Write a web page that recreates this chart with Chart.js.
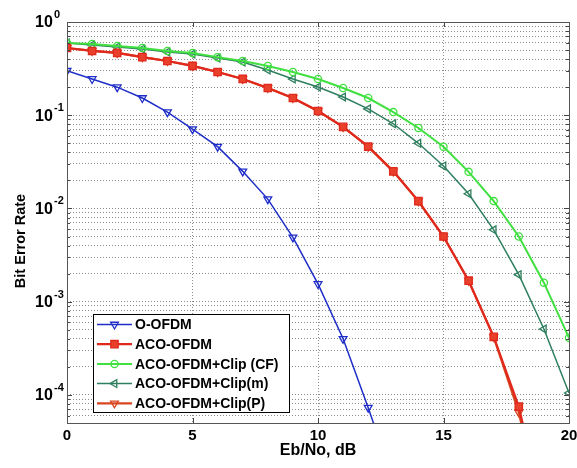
<!DOCTYPE html>
<html>
<head>
<meta charset="utf-8">
<script src="https://cdn.jsdelivr.net/npm/chart.js@4.4.1/dist/chart.umd.min.js"></script>
<style>
  html, body { margin: 0; padding: 0; background: #fff; }
  #wrap { width: 577px; height: 468px; }
</style>
</head>
<body>
<div id="wrap"><canvas id="berChart" width="577" height="468"></canvas></div>
<script>
// ===============================
// 1. data
// ===============================
const ebNo = [0, 1, 2, 3, 4, 5, 6, 7, 8, 9, 10, 11, 12, 13, 14, 15, 16, 17, 18, 19, 20];

const seriesNames = ["O-OFDM", "ACO-OFDM", "ACO-OFDM+Clip (CF)", "ACO-OFDM+Clip(m)", "ACO-OFDM+Clip(P)"];

const oOfdm = [0.30, 0.245, 0.20, 0.153, 0.108, 0.071, 0.046, 0.025, 0.0126, 0.0049, 0.00155, 0.0004, 0.000073, 0.000012];
const acoOfdm = [0.526, 0.489, 0.466, 0.42, 0.382, 0.338, 0.291, 0.245, 0.196, 0.153, 0.111, 0.075, 0.046, 0.025, 0.012, 0.005, 0.00168, 0.00042, 0.000075, 0.000005];
const clipCF = [0.596, 0.581, 0.553, 0.526, 0.489, 0.466, 0.42, 0.382, 0.338, 0.291, 0.245, 0.196, 0.153, 0.108, 0.073, 0.046, 0.0247, 0.012, 0.005, 0.0016, 0.00041];
const clipM = [0.596, 0.566, 0.54, 0.514, 0.477, 0.454, 0.411, 0.373, 0.306, 0.245, 0.201, 0.157, 0.117, 0.081, 0.050, 0.0286, 0.0144, 0.0059, 0.00195, 0.00051, 0.000105];
const clipP = [0.526, 0.489, 0.466, 0.42, 0.382, 0.338, 0.291, 0.245, 0.196, 0.153, 0.111, 0.075, 0.046, 0.025, 0.012, 0.005, 0.00168, 0.00042, 0.000065, 0.000004];

const xTicks = [0, 5, 10, 15, 20];
const yExponents = [0, -1, -2, -3, -4];
const yMin = 5e-5;
const yMax = 1;

// ===============================
// 2. styles
// ===============================
const styles = [
  { color: "#1f2ec8", width: 1.5, point: "triangle", rot: 180, r: 4.5, fill: "rgba(0,0,0,0)" },
  { color: "#e0281c", width: 2.2, point: "rect", rot: 0, r: 5.2, fill: "#e8402a" },
  { color: "#3fe03f", width: 2, point: "circle", rot: 0, r: 3.6, fill: "rgba(0,0,0,0)" },
  { color: "#2f7f5f", width: 1.5, point: "triangle", rot: -90, r: 4.5, fill: "rgba(0,0,0,0)" },
  { color: "#d8451f", width: 2.2, point: "triangle", rot: 180, r: 4.5, fill: "rgba(0,0,0,0)" }
];

const allSeries = [oOfdm, acoOfdm, clipCF, clipM, clipP];

function toPoints(values) {
  return values.map((v, i) => ({ x: ebNo[i], y: v }));
}

// y ticks at 1..9 x 10^n (log grid like matlab)
function buildLogTicks() {
  const ticks = [];
  for (let e = -5; e <= 0; e++) {
    for (let m = 1; m <= 9; m++) {
      const v = m * Math.pow(10, e);
      if (v >= yMin * 0.999 && v <= yMax * 1.001) ticks.push({ value: v, major: m === 1 });
    }
  }
  return ticks;
}

// ===============================
// 3. helpers for drawing
// ===============================
function drawMarker(ctx, s, x, y) {
  ctx.save();
  ctx.strokeStyle = s.color;
  ctx.fillStyle = s.fill;
  ctx.lineWidth = 1.3;
  if (Chart.helpers && Chart.helpers.drawPoint) {
    Chart.helpers.drawPoint(ctx, { pointStyle: s.point, rotation: s.rot, radius: s.r, borderWidth: 1.3 }, x, y);
  }
  ctx.restore();
}

const framePlugin = {
  id: "frame",
  afterDraw(chart) {
    const ctx = chart.ctx;
    const a = chart.chartArea;
    const ys = chart.scales.y;
    const xs = chart.scales.x;

    ctx.save();
    // inner tick marks
    ctx.strokeStyle = "#444";
    ctx.lineWidth = 1;
    buildLogTicks().forEach(t => {
      const py = Math.round(ys.getPixelForValue(t.value)) + 0.5;
      const len = t.major ? 5 : 3;
      ctx.beginPath();
      ctx.moveTo(a.left, py); ctx.lineTo(a.left + len, py);
      ctx.moveTo(a.right, py); ctx.lineTo(a.right - len, py);
      ctx.stroke();
    });
    xTicks.forEach(t => {
      const px = Math.round(xs.getPixelForValue(t)) + 0.5;
      ctx.beginPath();
      ctx.moveTo(px, a.top); ctx.lineTo(px, a.top + 5);
      ctx.moveTo(px, a.bottom); ctx.lineTo(px, a.bottom - 5);
      ctx.stroke();
    });

    // box
    ctx.strokeStyle = "#555";
    ctx.strokeRect(Math.round(a.left) + 0.5, Math.round(a.top) + 0.5,
      Math.round(a.right - a.left), Math.round(a.bottom - a.top));

    // y tick labels 10^n
    ctx.fillStyle = "#000";
    yExponents.forEach(e => {
      const py = ys.getPixelForValue(Math.pow(10, e));
      ctx.font = "bold 16px 'Liberation Sans', Arial, sans-serif";
      ctx.textAlign = "left";
      ctx.textBaseline = "middle";
      ctx.fillText("10", 35, py + 1);
      ctx.font = "bold 11px 'Liberation Sans', Arial, sans-serif";
      ctx.fillText(e === 0 ? "0" : "-" + Math.abs(e), 54, py - 7);
    });

    // y axis title
    ctx.save();
    ctx.translate(21, 241);
    ctx.rotate(-Math.PI / 2);
    ctx.font = "bold 14.5px 'Liberation Sans', Arial, sans-serif";
    ctx.textAlign = "center";
    ctx.textBaseline = "middle";
    ctx.fillText("Bit Error Rate", 0, 0);
    ctx.restore();

    // legend box
    const lx = 93, ly = 314, lw = 196, lh = 98;
    ctx.fillStyle = "#fff";
    ctx.fillRect(lx, ly, lw, lh);
    ctx.strokeStyle = "#000";
    ctx.lineWidth = 1;
    ctx.strokeRect(lx + 0.5, ly + 0.5, lw, lh);
    seriesNames.forEach((name, i) => {
      const s = styles[i];
      const ry = ly + 10.5 + i * 19.7;
      ctx.strokeStyle = s.color;
      ctx.lineWidth = s.width;
      ctx.beginPath();
      ctx.moveTo(97, ry); ctx.lineTo(132, ry);
      ctx.stroke();
      drawMarker(ctx, s, 114.5, ry);
      ctx.fillStyle = "#000";
      ctx.font = "bold 14px 'Liberation Sans', Arial, sans-serif";
      ctx.textAlign = "left";
      ctx.textBaseline = "middle";
      ctx.fillText(name, 135, ry + 1);
    });
    ctx.restore();
  }
};

// ===============================
// 4. chart
// ===============================
const datasets = allSeries.map((vals, i) => ({
  label: seriesNames[i],
  data: toPoints(vals),
  borderColor: styles[i].color,
  borderWidth: styles[i].width,
  pointStyle: styles[i].point,
  rotation: styles[i].rot,
  pointRadius: styles[i].r,
  pointBorderWidth: 1.3,
  pointBorderColor: styles[i].color,
  pointBackgroundColor: styles[i].fill,
  tension: 0,
  fill: false
}));

const ctx = document.getElementById("berChart").getContext("2d");
new Chart(ctx, {
  type: "line",
  data: { datasets: datasets },
  options: {
    responsive: false,
    animation: false,
    layout: { padding: { left: 0, right: 8, top: 22, bottom: 0 } },
    plugins: { legend: { display: false }, tooltip: { enabled: false } },
    scales: {
      x: {
        type: "linear",
        min: 0,
        max: 20,
        afterBuildTicks: s => { s.ticks = xTicks.map(v => ({ value: v })); },
        afterFit: s => { s.height = 45; s.paddingLeft = 0; s.paddingRight = 0; },
        ticks: {
          color: "#000",
          padding: 5,
          font: { family: "'Liberation Sans', Arial, sans-serif", size: 15, weight: "bold", lineHeight: 1 },
          maxRotation: 0
        },
        grid: { color: "#8c8c8c", lineWidth: 1, drawTicks: false },
        border: { display: false, dash: [1, 2] },
        title: {
          display: true,
          text: "Eb/No, dB",
          color: "#000",
          font: { family: "'Liberation Sans', Arial, sans-serif", size: 16, weight: "bold", lineHeight: 1 },
          padding: { top: 0, bottom: 9 }
        }
      },
      y: {
        type: "logarithmic",
        min: yMin,
        max: yMax,
        afterBuildTicks: s => { s.ticks = buildLogTicks().map(t => ({ value: t.value, major: t.major })); },
        afterFit: s => { s.width = 67; s.paddingTop = 0; s.paddingBottom = 0; },
        ticks: { display: false },
        grid: { color: "#8c8c8c", lineWidth: 1, drawTicks: false },
        border: { display: false, dash: [1, 2] }
      }
    }
  },
  plugins: [framePlugin]
});
</script>
</body>
</html>
